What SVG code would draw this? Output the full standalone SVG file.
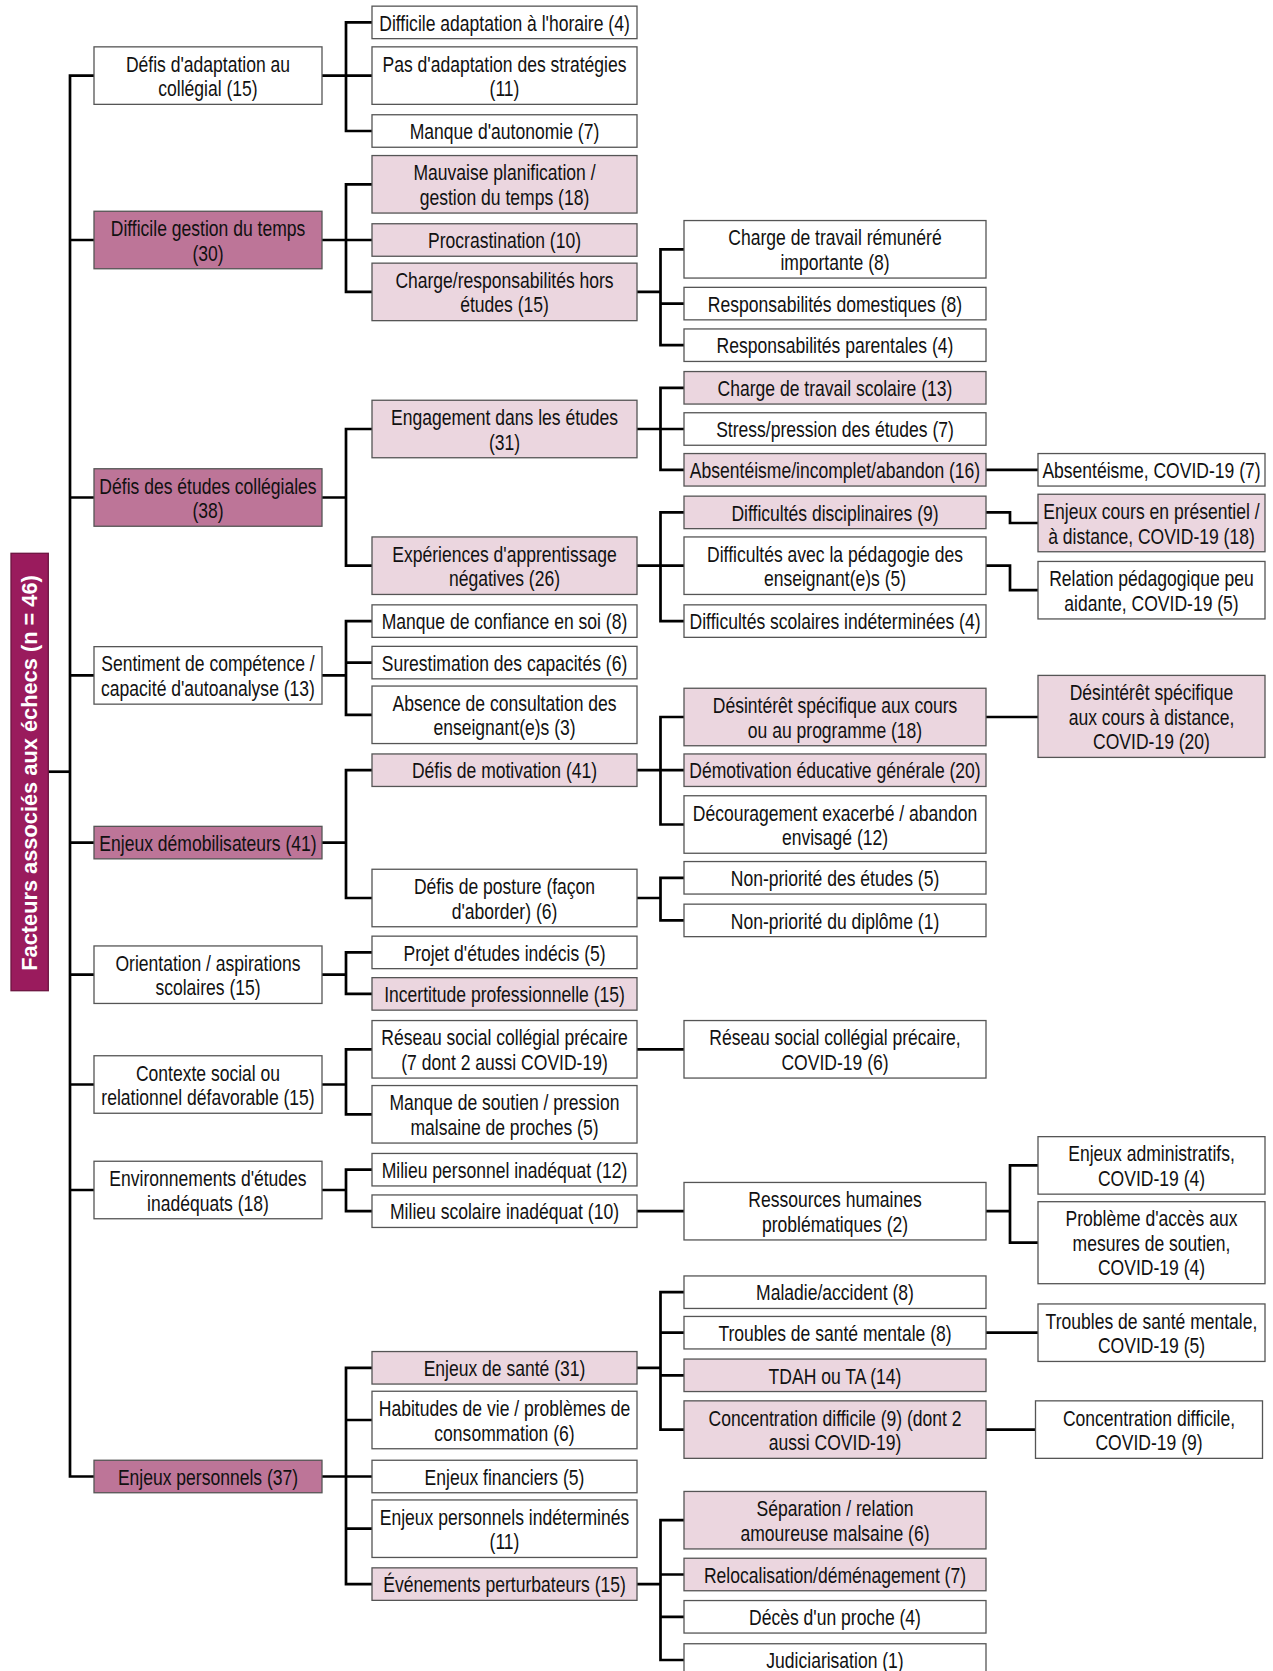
<svg xmlns="http://www.w3.org/2000/svg" width="1273" height="1671" viewBox="0 0 1273 1671">
<style>
.w,.p,.d{stroke:#555;stroke-width:1.3}
.w{fill:#fff}.p{fill:#ebd6df}.d{fill:#bd7598}
.t{font-family:"Liberation Sans",Arial,sans-serif;font-size:21.4px;fill:#111;text-anchor:middle}
.c path{fill:none;stroke:#000;stroke-width:2.7;stroke-linejoin:miter}
</style>
<rect width="1273" height="1671" fill="#fff"/>
<g class="c" id="connectors">
<path d="M48,771.7H70"/>
<path d="M94,75.6H70V1476.5H94M70,240H94M70,497.5H94M70,675.4H94M70,842.6H94M70,974.7H94M70,1084.5H94M70,1190H94"/>
<path d="M322,75.6H346M372,22.4H346V131H372M346,75.6H372"/>
<path d="M322,240H346M372,184.3H346V291.9H372M346,240H372"/>
<path d="M322,497.5H346M372,429H346V565.7H372"/>
<path d="M322,675.4H346M372,621.1H346V714.8H372M346,662.6H372"/>
<path d="M322,842.6H346M372,770.2H346V898H372"/>
<path d="M322,974.7H346M372,952.4H346V993.9H372"/>
<path d="M322,1084.5H346M372,1049.3H346V1114.3H372"/>
<path d="M322,1190H346M372,1169.7H346V1211.2H372"/>
<path d="M322,1476.5H346M372,1367.8H346V1584.1H372M346,1420H372M346,1476.5H372M346,1528.7H372"/>
<path d="M637,291.9H660.5M684,249.3H660.5V345.2H684M660.5,303.6H684"/>
<path d="M637,429H660.5M684,387.8H660.5V469.8H684M660.5,429H684"/>
<path d="M637,565.7H660.5M684,512.4H660.5V621.1H684M660.5,565.7H684"/>
<path d="M637,770.2H660.5M684,717H660.5V824.5H684M660.5,770.2H684"/>
<path d="M637,898H660.5M684,877.8H660.5V920.4H684"/>
<path d="M637,1049.3H684"/>
<path d="M637,1211.2H684"/>
<path d="M637,1367.8H660.5M684,1292.2H660.5V1429.6H684M660.5,1332.7H684M660.5,1375.3H684"/>
<path d="M637,1584.1H660.5M684,1520.2H660.5V1660H684M660.5,1574.5H684M660.5,1616.8H684"/>
<path d="M986,469.8H1038"/>
<path d="M986,512.4H1010V523H1038"/>
<path d="M986,565.7H1010V590.2H1038"/>
<path d="M986,717H1038"/>
<path d="M986,1211.2H1010M1038,1165.4H1010V1242.7H1038"/>
<path d="M986,1332.7H1038"/>
<path d="M986,1429.6H1035.5"/>
</g>
<g id="title">
<rect x="11" y="553.3" width="37.3" height="437.4" fill="#9a1b5d" stroke="#6d1441" stroke-width="1.3"/>
<text transform="translate(37.4,773) rotate(-90)" text-anchor="middle" font-family="'Liberation Sans',Arial,sans-serif" font-weight="bold" font-size="21.8" fill="#fff">Facteurs associés aux échecs (n = 46)</text>
</g>
<g id="l1-1"><rect class="w" x="94" y="46.85" width="228" height="57.5"/><text class="t" transform="translate(208 1) scale(.82 1)" x="0" y="70.65">Défis d'adaptation au<tspan x="0" dy="24.5">collégial (15)</tspan></text></g>
<g id="l1-2"><rect class="d" x="94" y="211.25" width="228" height="57.5"/><text class="t" transform="translate(208 1) scale(.82 1)" x="0" y="235.05">Difficile gestion du temps<tspan x="0" dy="24.5">(30)</tspan></text></g>
<g id="l1-3"><rect class="d" x="94" y="468.75" width="228" height="57.5"/><text class="t" transform="translate(208 1) scale(.82 1)" x="0" y="492.55">Défis des études collégiales<tspan x="0" dy="24.5">(38)</tspan></text></g>
<g id="l1-4"><rect class="w" x="94" y="646.65" width="228" height="57.5"/><text class="t" transform="translate(208 1) scale(.82 1)" x="0" y="670.45">Sentiment de compétence /<tspan x="0" dy="24.5">capacité d'autoanalyse (13)</tspan></text></g>
<g id="l1-5"><rect class="d" x="94" y="826.35" width="228" height="32.5"/><text class="t" transform="translate(208 1) scale(.82 1)" x="0" y="849.9">Enjeux démobilisateurs (41)</text></g>
<g id="l1-6"><rect class="w" x="94" y="945.95" width="228" height="57.5"/><text class="t" transform="translate(208 1) scale(.82 1)" x="0" y="969.75">Orientation / aspirations<tspan x="0" dy="24.5">scolaires (15)</tspan></text></g>
<g id="l1-7"><rect class="w" x="94" y="1055.75" width="228" height="57.5"/><text class="t" transform="translate(208 1) scale(.82 1)" x="0" y="1079.55">Contexte social ou<tspan x="0" dy="24.5">relationnel défavorable (15)</tspan></text></g>
<g id="l1-8"><rect class="w" x="94" y="1161.25" width="228" height="57.5"/><text class="t" transform="translate(208 1) scale(.82 1)" x="0" y="1185.05">Environnements d'études<tspan x="0" dy="24.5">inadéquats (18)</tspan></text></g>
<g id="l1-9"><rect class="d" x="94" y="1460.25" width="228" height="32.5"/><text class="t" transform="translate(208 1) scale(.82 1)" x="0" y="1483.8">Enjeux personnels (37)</text></g>

<g id="l2-1"><rect class="w" x="372" y="6.15" width="265" height="32.5"/><text class="t" transform="translate(504.5 1) scale(.82 1)" x="0" y="29.7">Difficile adaptation à l'horaire (4)</text></g>
<g id="l2-2"><rect class="w" x="372" y="46.85" width="265" height="57.5"/><text class="t" transform="translate(504.5 1) scale(.82 1)" x="0" y="70.65">Pas d'adaptation des stratégies<tspan x="0" dy="24.5">(11)</tspan></text></g>
<g id="l2-3"><rect class="w" x="372" y="114.75" width="265" height="32.5"/><text class="t" transform="translate(504.5 1) scale(.82 1)" x="0" y="138.3">Manque d'autonomie (7)</text></g>
<g id="l2-4"><rect class="p" x="372" y="155.55" width="265" height="57.5"/><text class="t" transform="translate(504.5 1) scale(.82 1)" x="0" y="179.35">Mauvaise planification /<tspan x="0" dy="24.5">gestion du temps (18)</tspan></text></g>
<g id="l2-5"><rect class="p" x="372" y="223.75" width="265" height="32.5"/><text class="t" transform="translate(504.5 1) scale(.82 1)" x="0" y="247.3">Procrastination (10)</text></g>
<g id="l2-6"><rect class="p" x="372" y="263.15" width="265" height="57.5"/><text class="t" transform="translate(504.5 1) scale(.82 1)" x="0" y="286.95">Charge/responsabilités hors<tspan x="0" dy="24.5">études (15)</tspan></text></g>
<g id="l2-7"><rect class="p" x="372" y="400.25" width="265" height="57.5"/><text class="t" transform="translate(504.5 1) scale(.82 1)" x="0" y="424.05">Engagement dans les études<tspan x="0" dy="24.5">(31)</tspan></text></g>
<g id="l2-8"><rect class="p" x="372" y="536.95" width="265" height="57.5"/><text class="t" transform="translate(504.5 1) scale(.82 1)" x="0" y="560.75">Expériences d'apprentissage<tspan x="0" dy="24.5">négatives (26)</tspan></text></g>
<g id="l2-9"><rect class="w" x="372" y="604.85" width="265" height="32.5"/><text class="t" transform="translate(504.5 1) scale(.82 1)" x="0" y="628.4">Manque de confiance en soi (8)</text></g>
<g id="l2-10"><rect class="w" x="372" y="646.35" width="265" height="32.5"/><text class="t" transform="translate(504.5 1) scale(.82 1)" x="0" y="669.9">Surestimation des capacités (6)</text></g>
<g id="l2-11"><rect class="w" x="372" y="686.05" width="265" height="57.5"/><text class="t" transform="translate(504.5 1) scale(.82 1)" x="0" y="709.85">Absence de consultation des<tspan x="0" dy="24.5">enseignant(e)s (3)</tspan></text></g>
<g id="l2-12"><rect class="p" x="372" y="753.95" width="265" height="32.5"/><text class="t" transform="translate(504.5 1) scale(.82 1)" x="0" y="777.5">Défis de motivation (41)</text></g>
<g id="l2-13"><rect class="w" x="372" y="869.25" width="265" height="57.5"/><text class="t" transform="translate(504.5 1) scale(.82 1)" x="0" y="893.05">Défis de posture (façon<tspan x="0" dy="24.5">d'aborder) (6)</tspan></text></g>
<g id="l2-14"><rect class="w" x="372" y="936.15" width="265" height="32.5"/><text class="t" transform="translate(504.5 1) scale(.82 1)" x="0" y="959.7">Projet d'études indécis (5)</text></g>
<g id="l2-15"><rect class="p" x="372" y="977.65" width="265" height="32.5"/><text class="t" transform="translate(504.5 1) scale(.82 1)" x="0" y="1001.2">Incertitude professionnelle (15)</text></g>
<g id="l2-16"><rect class="w" x="372" y="1020.55" width="265" height="57.5"/><text class="t" transform="translate(504.5 1) scale(.82 1)" x="0" y="1044.35">Réseau social collégial précaire<tspan x="0" dy="24.5">(7 dont 2 aussi COVID-19)</tspan></text></g>
<g id="l2-17"><rect class="w" x="372" y="1085.55" width="265" height="57.5"/><text class="t" transform="translate(504.5 1) scale(.82 1)" x="0" y="1109.35">Manque de soutien / pression<tspan x="0" dy="24.5">malsaine de proches (5)</tspan></text></g>
<g id="l2-18"><rect class="w" x="372" y="1153.45" width="265" height="32.5"/><text class="t" transform="translate(504.5 1) scale(.82 1)" x="0" y="1177">Milieu personnel inadéquat (12)</text></g>
<g id="l2-19"><rect class="w" x="372" y="1194.95" width="265" height="32.5"/><text class="t" transform="translate(504.5 1) scale(.82 1)" x="0" y="1218.5">Milieu scolaire inadéquat (10)</text></g>
<g id="l2-20"><rect class="p" x="372" y="1351.55" width="265" height="32.5"/><text class="t" transform="translate(504.5 1) scale(.82 1)" x="0" y="1375.1">Enjeux de santé (31)</text></g>
<g id="l2-21"><rect class="w" x="372" y="1391.25" width="265" height="57.5"/><text class="t" transform="translate(504.5 1) scale(.82 1)" x="0" y="1415.05">Habitudes de vie / problèmes de<tspan x="0" dy="24.5">consommation (6)</tspan></text></g>
<g id="l2-22"><rect class="w" x="372" y="1460.25" width="265" height="32.5"/><text class="t" transform="translate(504.5 1) scale(.82 1)" x="0" y="1483.8">Enjeux financiers (5)</text></g>
<g id="l2-23"><rect class="w" x="372" y="1499.95" width="265" height="57.5"/><text class="t" transform="translate(504.5 1) scale(.82 1)" x="0" y="1523.75">Enjeux personnels indéterminés<tspan x="0" dy="24.5">(11)</tspan></text></g>
<g id="l2-24"><rect class="p" x="372" y="1567.85" width="265" height="32.5"/><text class="t" transform="translate(504.5 1) scale(.82 1)" x="0" y="1591.4">Événements perturbateurs (15)</text></g>

<g id="l3-1"><rect class="w" x="684" y="220.55" width="302" height="57.5"/><text class="t" transform="translate(835 1) scale(.82 1)" x="0" y="244.35">Charge de travail rémunéré<tspan x="0" dy="24.5">importante (8)</tspan></text></g>
<g id="l3-2"><rect class="w" x="684" y="287.35" width="302" height="32.5"/><text class="t" transform="translate(835 1) scale(.82 1)" x="0" y="310.9">Responsabilités domestiques (8)</text></g>
<g id="l3-3"><rect class="w" x="684" y="328.95" width="302" height="32.5"/><text class="t" transform="translate(835 1) scale(.82 1)" x="0" y="352.5">Responsabilités parentales (4)</text></g>
<g id="l3-4"><rect class="p" x="684" y="371.55" width="302" height="32.5"/><text class="t" transform="translate(835 1) scale(.82 1)" x="0" y="395.1">Charge de travail scolaire (13)</text></g>
<g id="l3-5"><rect class="w" x="684" y="412.75" width="302" height="32.5"/><text class="t" transform="translate(835 1) scale(.82 1)" x="0" y="436.3">Stress/pression des études (7)</text></g>
<g id="l3-6"><rect class="p" x="684" y="453.55" width="302" height="32.5"/><text class="t" transform="translate(835 1) scale(.82 1)" x="0" y="477.1">Absentéisme/incomplet/abandon (16)</text></g>
<g id="l3-7"><rect class="p" x="684" y="496.15" width="302" height="32.5"/><text class="t" transform="translate(835 1) scale(.82 1)" x="0" y="519.7">Difficultés disciplinaires (9)</text></g>
<g id="l3-8"><rect class="w" x="684" y="536.95" width="302" height="57.5"/><text class="t" transform="translate(835 1) scale(.82 1)" x="0" y="560.75">Difficultés avec la pédagogie des<tspan x="0" dy="24.5">enseignant(e)s (5)</tspan></text></g>
<g id="l3-9"><rect class="w" x="684" y="604.85" width="302" height="32.5"/><text class="t" transform="translate(835 1) scale(.82 1)" x="0" y="628.4">Difficultés scolaires indéterminées (4)</text></g>
<g id="l3-10"><rect class="p" x="684" y="688.25" width="302" height="57.5"/><text class="t" transform="translate(835 1) scale(.82 1)" x="0" y="712.05">Désintérêt spécifique aux cours<tspan x="0" dy="24.5">ou au programme (18)</tspan></text></g>
<g id="l3-11"><rect class="p" x="684" y="753.95" width="302" height="32.5"/><text class="t" transform="translate(835 1) scale(.82 1)" x="0" y="777.5">Démotivation éducative générale (20)</text></g>
<g id="l3-12"><rect class="w" x="684" y="795.75" width="302" height="57.5"/><text class="t" transform="translate(835 1) scale(.82 1)" x="0" y="819.55">Découragement exacerbé / abandon<tspan x="0" dy="24.5">envisagé (12)</tspan></text></g>
<g id="l3-13"><rect class="w" x="684" y="861.55" width="302" height="32.5"/><text class="t" transform="translate(835 1) scale(.82 1)" x="0" y="885.1">Non-priorité des études (5)</text></g>
<g id="l3-14"><rect class="w" x="684" y="904.15" width="302" height="32.5"/><text class="t" transform="translate(835 1) scale(.82 1)" x="0" y="927.7">Non-priorité du diplôme (1)</text></g>
<g id="l3-15"><rect class="w" x="684" y="1020.55" width="302" height="57.5"/><text class="t" transform="translate(835 1) scale(.82 1)" x="0" y="1044.35">Réseau social collégial précaire,<tspan x="0" dy="24.5">COVID-19 (6)</tspan></text></g>
<g id="l3-16"><rect class="w" x="684" y="1182.45" width="302" height="57.5"/><text class="t" transform="translate(835 1) scale(.82 1)" x="0" y="1206.25">Ressources humaines<tspan x="0" dy="24.5">problématiques (2)</tspan></text></g>
<g id="l3-17"><rect class="w" x="684" y="1275.95" width="302" height="32.5"/><text class="t" transform="translate(835 1) scale(.82 1)" x="0" y="1299.5">Maladie/accident (8)</text></g>
<g id="l3-18"><rect class="w" x="684" y="1316.45" width="302" height="32.5"/><text class="t" transform="translate(835 1) scale(.82 1)" x="0" y="1340">Troubles de santé mentale (8)</text></g>
<g id="l3-19"><rect class="p" x="684" y="1359.05" width="302" height="32.5"/><text class="t" transform="translate(835 1) scale(.82 1)" x="0" y="1382.6">TDAH ou TA (14)</text></g>
<g id="l3-20"><rect class="p" x="684" y="1400.85" width="302" height="57.5"/><text class="t" transform="translate(835 1) scale(.82 1)" x="0" y="1424.65">Concentration difficile (9) (dont 2<tspan x="0" dy="24.5">aussi COVID-19)</tspan></text></g>
<g id="l3-21"><rect class="p" x="684" y="1491.45" width="302" height="57.5"/><text class="t" transform="translate(835 1) scale(.82 1)" x="0" y="1515.25">Séparation / relation<tspan x="0" dy="24.5">amoureuse malsaine (6)</tspan></text></g>
<g id="l3-22"><rect class="p" x="684" y="1558.25" width="302" height="32.5"/><text class="t" transform="translate(835 1) scale(.82 1)" x="0" y="1581.8">Relocalisation/déménagement (7)</text></g>
<g id="l3-23"><rect class="w" x="684" y="1600.55" width="302" height="32.5"/><text class="t" transform="translate(835 1) scale(.82 1)" x="0" y="1624.1">Décès d'un proche (4)</text></g>
<g id="l3-24"><rect class="w" x="684" y="1643.75" width="302" height="32.5"/><text class="t" transform="translate(835 1) scale(.82 1)" x="0" y="1667.3">Judiciarisation (1)</text></g>

<g id="l4-1"><rect class="w" x="1038" y="453.55" width="227" height="32.5"/><text class="t" transform="translate(1151.5 1) scale(.82 1)" x="0" y="477.1">Absentéisme, COVID-19 (7)</text></g>
<g id="l4-2"><rect class="p" x="1038" y="494.25" width="227" height="57.5"/><text class="t" transform="translate(1151.5 1) scale(.82 1)" x="0" y="518.05">Enjeux cours en présentiel /<tspan x="0" dy="24.5">à distance, COVID-19 (18)</tspan></text></g>
<g id="l4-3"><rect class="w" x="1038" y="561.45" width="227" height="57.5"/><text class="t" transform="translate(1151.5 1) scale(.82 1)" x="0" y="585.25">Relation pédagogique peu<tspan x="0" dy="24.5">aidante, COVID-19 (5)</tspan></text></g>
<g id="l4-4"><rect class="p" x="1038" y="675.4" width="227" height="82"/><text class="t" transform="translate(1151.5 1) scale(.82 1)" x="0" y="699.2">Désintérêt spécifique<tspan x="0" dy="24.5">aux cours à distance,</tspan><tspan x="0" dy="24.5">COVID-19 (20)</tspan></text></g>
<g id="l4-5"><rect class="w" x="1038" y="1136.65" width="227" height="57.5"/><text class="t" transform="translate(1151.5 1) scale(.82 1)" x="0" y="1160.45">Enjeux administratifs,<tspan x="0" dy="24.5">COVID-19 (4)</tspan></text></g>
<g id="l4-6"><rect class="w" x="1038" y="1201.7" width="227" height="82"/><text class="t" transform="translate(1151.5 1) scale(.82 1)" x="0" y="1225.5">Problème d'accès aux<tspan x="0" dy="24.5">mesures de soutien,</tspan><tspan x="0" dy="24.5">COVID-19 (4)</tspan></text></g>
<g id="l4-7"><rect class="w" x="1038" y="1303.95" width="227" height="57.5"/><text class="t" transform="translate(1151.5 1) scale(.82 1)" x="0" y="1327.75">Troubles de santé mentale,<tspan x="0" dy="24.5">COVID-19 (5)</tspan></text></g>
<g id="l4-8"><rect class="w" x="1035.5" y="1400.85" width="227" height="57.5"/><text class="t" transform="translate(1149 1) scale(.82 1)" x="0" y="1424.65">Concentration difficile,<tspan x="0" dy="24.5">COVID-19 (9)</tspan></text></g>
</svg>
